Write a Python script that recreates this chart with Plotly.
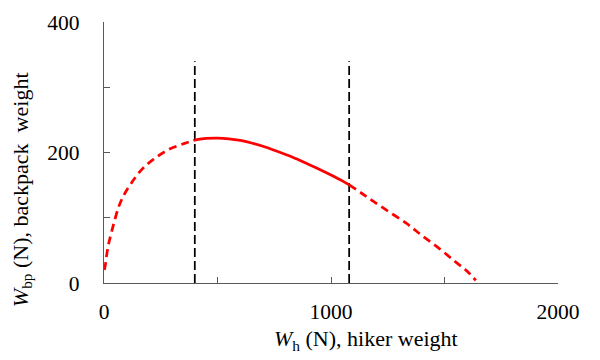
import plotly.graph_objects as go

# Left dashed branch
left_x = [2, 6, 18, 40, 65, 88, 120, 164, 216, 282, 355, 400]
left_y = [20, 28, 56, 87, 117, 135, 153, 173, 189, 204, 214, 219]

# Solid middle branch
mid_x = [400, 450, 500, 550, 600, 650, 700, 750, 800, 850, 900, 950, 1000, 1050, 1080]
mid_y = [219, 221.5, 222, 221, 218.5, 214.5, 209.5, 203.5, 197, 190, 182, 174, 165.5, 156.5, 150.5]

# Right dashed branch
right_x = [1080, 1150, 1230, 1330, 1400, 1480, 1550, 1600, 1638]
right_y = [150.5, 134, 115, 92, 73, 52, 32, 18, 4]

# Vertical dashed limits
vline_x = [400, 1080]
vline_top = 340

x_tickvals = [0, 500, 1000, 1500, 2000]
x_ticktext = ["0", "", "1000", "", "2000"]
y_tickvals = [0, 100, 200, 300, 400]
y_ticktext = ["0", "", "200", "", "400"]

RED = "#FF0000"
FONT = "Liberation Serif"

fig = go.Figure()
for vx in vline_x:
    fig.add_trace(go.Scatter(x=[vx, vx], y=[0, vline_top], mode="lines",
                             line=dict(color="black", width=1.75, dash="9px,4px"),
                             showlegend=False, hoverinfo="skip"))
fig.add_trace(go.Scatter(x=left_x, y=left_y, mode="lines", line_shape="spline",
                         line=dict(color=RED, width=2.75, dash="8px,5px"), showlegend=False))
fig.add_trace(go.Scatter(x=mid_x, y=mid_y, mode="lines", line_shape="spline",
                         line=dict(color=RED, width=2.75), showlegend=False))
fig.add_trace(go.Scatter(x=right_x, y=right_y, mode="lines", line_shape="spline",
                         line=dict(color=RED, width=2.75, dash="8px,5px"), showlegend=False))

axis_common = dict(showgrid=False, zeroline=False, showline=True, linecolor="#595959",
                   linewidth=1.3, ticks="inside", ticklen=6, tickcolor="#595959", tickwidth=1.3,
                   automargin=False,
                   tickfont=dict(family=FONT, size=21.5, color="black"))
fig.update_xaxes(range=[0, 2000], tickvals=x_tickvals, ticktext=x_ticktext,
                 ticklabelstandoff=9, **axis_common)
fig.update_yaxes(range=[0, 400], tickvals=y_tickvals, ticktext=y_ticktext,
                 ticklabelstandoff=19, **axis_common)

fig.add_annotation(text="<i>W</i><sub>h</sub> (N), hiker weight", xref="paper", yref="paper",
                   x=0.578, y=-0.217, xanchor="center", yanchor="middle", showarrow=False,
                   font=dict(family=FONT, size=22, color="black"))
fig.add_annotation(text="<i>W</i><sub>bp</sub> (N), backpack&nbsp; weight", xref="paper", yref="paper",
                   x=-0.182, y=0.357, xanchor="center", yanchor="middle", showarrow=False,
                   textangle=-90, font=dict(family=FONT, size=22, color="black"))

fig.update_layout(width=592, height=352, margin=dict(l=96, r=42, t=14, b=77),
                  plot_bgcolor="white", paper_bgcolor="white")
fig.write_html("out.html")
